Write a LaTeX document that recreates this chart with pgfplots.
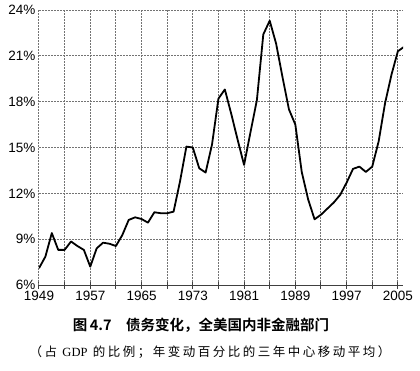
\documentclass[border=0pt]{standalone}
\usepackage{pgfplots}
\pgfplotsset{compat=1.18}
\usepackage{fontspec}
\setmainfont{Liberation Sans}
\newfontfamily\cjkbold[BoldFont=* Bold]{Noto Sans CJK SC}
\newfontfamily\cjksub[LetterSpace=20]{Noto Sans CJK SC}
\newfontfamily\serifgdp{Liberation Serif}
\tikzset{gridln/.style={black!55, line width=1pt, dash pattern=on 2pt off 1pt}}
\begin{document}
\begin{tikzpicture}
\foreach \j in {1,...,6} {
  \draw[gridln] (0pt,\j*45.833pt) -- (364pt,\j*45.833pt);
}
\foreach \i in {0,...,14} {
  \draw[gridln] (\i*25.634pt,0pt) -- (\i*25.634pt,275pt);
  \draw[black!75, line width=1pt] (\i*25.634pt,-3.5pt) -- (\i*25.634pt,3.5pt);
}
\begin{axis}[
  at={(0pt,0pt)}, anchor=origin,
  scale only axis, width=364pt, height=275pt,
  xmin=1949, xmax=2005.8, ymin=6, ymax=24,
  axis x line*=bottom, axis y line*=left,
  x axis line style={black!75, line width=1pt, -},
  y axis line style={gridln, -},
  xtick={1949,1953,...,2005},
  ytick={6,9,...,24},
  major tick length=0pt,
  /pgf/number format/assume math mode=true,
  xticklabel style={font=\fontsize{13.5}{15}\selectfont, yshift=-3pt},
  yticklabel style={font=\fontsize{13.5}{15}\selectfont},
  yticklabel={\pgfmathprintnumber{\tick}\%},
  xticklabels={1949,,1957,,1965,,1973,,1981,,1989,,1997,,2005},
]
\addplot[black, line width=1.8pt, line join=round] table {
1949 7.1
1950 7.86
1951 9.4
1952 8.3
1953 8.3
1954 8.85
1955 8.55
1956 8.3
1957 7.2
1958 8.4
1959 8.77
1960 8.7
1961 8.55
1962 9.27
1963 10.26
1964 10.43
1965 10.32
1966 10.08
1967 10.76
1968 10.7
1969 10.7
1970 10.8
1971 12.77
1972 15.06
1973 15.0
1974 13.64
1975 13.36
1976 15.2
1977 18.2
1978 18.8
1979 17.2
1980 15.5
1981 13.86
1982 16.0
1983 18.1
1984 22.4
1985 23.3
1986 21.8
1987 19.6
1988 17.5
1989 16.5
1990 13.4
1991 11.6
1992 10.3
1993 10.6
1994 11.0
1995 11.4
1996 11.9
1997 12.7
1998 13.6
1999 13.75
2000 13.4
2001 13.75
2002 15.4
2003 17.9
2004 19.76
2005 21.3
2006 21.6
};
\end{axis}
\node[font=\cjkbold\bfseries\fontsize{14.5}{16}\selectfont] at (162pt,-40pt) {图\,4.7\quad 债务变化，全美国内非金融部门};
\node[font=\cjksub\fontsize{12.5}{14}\selectfont] at (171pt,-67pt) {（占 {\serifgdp GDP} 的比例；年变动百分比的三年中心移动平均）};
\path (-39pt,-85pt) rectangle (381pt,285pt);
\end{tikzpicture}
\end{document}
